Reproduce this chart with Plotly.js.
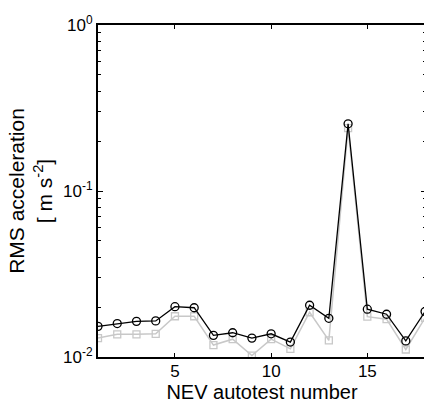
<!DOCTYPE html>
<html>
<head>
<meta charset="utf-8">
<script src="https://cdn.plot.ly/plotly-3.0.1.min.js"></script>
<style>
html,body{margin:0;padding:0;overflow:hidden;background:#fff;}
#chart{width:426px;height:403px;}
</style>
</head>
<body>
<div id="chart"></div>
<script>
const testNumbers = [1,2,3,4,5,6,7,8,9,10,11,12,13,14,15,16,17,18];
const rmsBlack = [0.0153,0.0159,0.0164,0.0165,0.0201,0.0198,0.0135,0.0140,0.0130,0.0138,0.0123,0.0205,0.0171,0.254,0.0194,0.0181,0.0125,0.0188];
const rmsGray  = [0.0130,0.0137,0.0137,0.0138,0.0176,0.0176,0.0118,0.0128,0.0102,0.0128,0.0112,0.0186,0.0126,0.239,0.0175,0.0169,0.0111,0.0172];
const xTickVals = [5,10,15];
const xTickText = ['5','10','15'];
const yTickVals = [0.01,0.1,1];
const yTickText = ['10<sup>-2</sup>','10<sup>-1</sup>','10<sup>0</sup>'];

const fam = 'Liberation Sans, Arial, sans-serif';
const tickFont = {family:fam, size:17, color:'#000'};
const titleFont = {family:fam, size:20, color:'#000'};

const traces = [
  {x:testNumbers, y:rmsGray, type:'scatter', mode:'lines+markers',
   line:{color:'#c8c8c8', width:1.5},
   marker:{symbol:'square-open', size:7, color:'#c8c8c8', line:{width:1.3}},
   showlegend:false},
  {x:testNumbers, y:rmsBlack, type:'scatter', mode:'lines+markers',
   line:{color:'#000', width:1.3},
   marker:{symbol:'circle-open', size:8, color:'#000', line:{width:1.3}},
   showlegend:false}
];

const layout = {
  width:426, height:403,
  margin:{l:98, r:0, t:25, b:46},
  paper_bgcolor:'#fff', plot_bgcolor:'#fff',
  font:tickFont,
  xaxis:{
    range:[1,18.05], tickmode:'array', tickvals:xTickVals, ticktext:xTickText,
    ticks:'inside', ticklen:4, tickwidth:1, ticklabelstandoff:-2,
    tickcolor:'#000', showline:true, linecolor:'#000', linewidth:2, mirror:'ticks',
    showgrid:false, zeroline:false, tickfont:tickFont,
    title:{text:'NEV autotest number', font:titleFont, standoff:7}
  },
  yaxis:{
    type:'log', range:[-2,0], tickmode:'array', tickvals:yTickVals, ticktext:yTickText,
    ticks:'inside', ticklen:5, tickwidth:1, tickcolor:'#000',
    showline:true, linecolor:'#000', linewidth:2, mirror:'ticks',
    showgrid:false, zeroline:false, tickfont:tickFont,
    minor:{ticks:'inside', ticklen:3, tickcolor:'#000', tickwidth:1, dtick:'D1', showgrid:false},
    title:{text:'RMS acceleration<br>[ m s<sup>-2</sup>]', font:{family:fam, size:21, color:'#000'}, standoff:5}
  }
};

Plotly.newPlot('chart', traces, layout, {staticPlot:true, displayModeBar:false});
</script>
</body>
</html>
